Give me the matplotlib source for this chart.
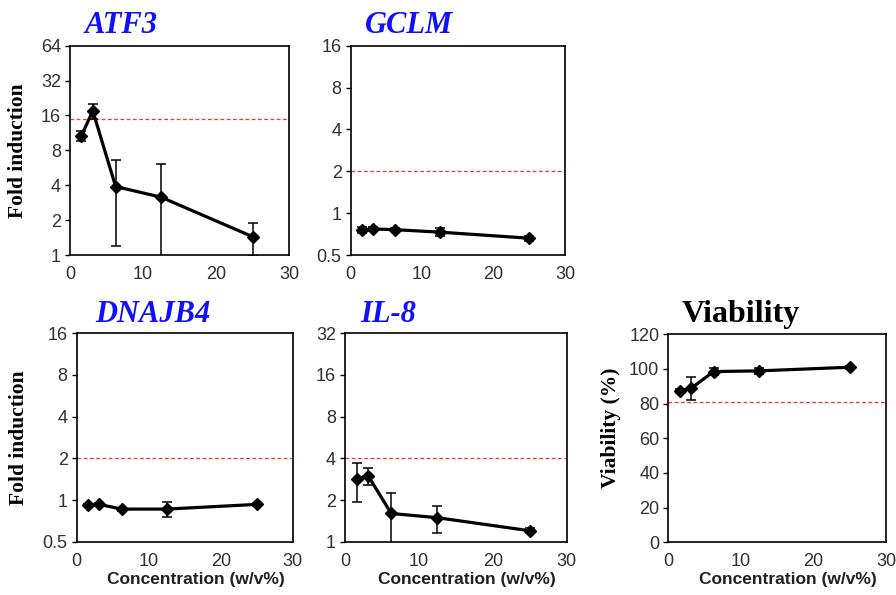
import matplotlib.pyplot as plt
import numpy as np

conc = [1.5625, 3.125, 6.25, 12.5, 25]

atf3 = [10.7, 17.5, 3.9, 3.15, 1.44]
atf3_err = [1.0, 2.5, 2.7, 2.9, 0.46]
gclm = [0.76, 0.77, 0.76, 0.73, 0.66]
gclm_err = [0.04, 0.02, 0.02, 0.05, 0.03]
dnajb4 = [0.92, 0.93, 0.86, 0.86, 0.93]
dnajb4_err = [0.02, 0.02, 0.02, 0.11, 0.02]
il8 = [2.82, 3.0, 1.6, 1.49, 1.2]
il8_err = [0.9, 0.43, 0.66, 0.33, 0.05]
viab = [87.3, 88.8, 98.5, 98.9, 101.0]
viab_err = [1.0, 6.6, 1.8, 1.6, 0.8]

thresholds = {'ATF3': 15, 'GCLM': 2, 'DNAJB4': 2, 'IL-8': 4, 'Viability': 80.8}

W, H = 896, 595
fig = plt.figure(figsize=(W / 100, H / 100), dpi=100)
sans = 'Liberation Sans'
serif = 'Liberation Serif'


def px_axes(l, t, r, b):
    return fig.add_axes([l / W, 1 - b / H, (r - l) / W, (b - t) / H])


def draw(ax, y, err, thr, log=True, ylim=None, yticks=None, yticklabels=None):
    ax.errorbar(conc, y, yerr=err, color='black', lw=2.3, marker='D', ms=6.5,
                capsize=3.5, elinewidth=1.1, capthick=1.1, zorder=3)
    ax.axhline(thr, color='#ff3030', lw=0.9, ls=(0, (3, 2)), zorder=2)
    if log:
        ax.set_yscale('log', base=2)
    ax.set_ylim(ylim)
    ax.set_yticks(yticks)
    ax.set_yticklabels(yticklabels)
    ax.minorticks_off()
    ax.set_xlim(0, 30)
    ax.set_xticks([0, 10, 20, 30])
    ax.tick_params(axis='y', direction='out', length=3.5, width=1, pad=3)
    ax.tick_params(axis='x', length=0, pad=8)
    ax.tick_params(labelsize=13, labelcolor='#303030')
    for lab in ax.get_xticklabels() + ax.get_yticklabels():
        lab.set_family(sans)
    for s in ax.spines.values():
        s.set_linewidth(1.2)


def title(x, y, text, color='#1010ff', italic=True, size=22):
    fig.text(x / W, 1 - y / H, text, color=color, fontsize=size, fontweight='bold',
             fontstyle='italic' if italic else 'normal', family=serif, va='baseline', ha='left')


# ATF3
ax1 = px_axes(70, 45.7, 289, 255)
draw(ax1, atf3, atf3_err, thresholds['ATF3'], ylim=(1, 64),
     yticks=[1, 2, 4, 8, 16, 32, 64], yticklabels=['1', '2', '4', '8', '16', '32', '64'])
ax1.set_ylabel('Fold induction', family=serif, fontweight='bold', fontsize=15.5)
ax1.yaxis.set_label_coords(-0.19, 0.5)
title(85, 33, 'ATF3')

# GCLM
ax2 = px_axes(350.7, 45.7, 565, 255)
draw(ax2, gclm, gclm_err, thresholds['GCLM'], ylim=(0.5, 16),
     yticks=[0.5, 1, 2, 4, 8, 16], yticklabels=['0.5', '1', '2', '4', '8', '16'])
title(365, 33, 'GCLM')

# DNAJB4
ax3 = px_axes(76.7, 333.3, 292.7, 541.7)
draw(ax3, dnajb4, dnajb4_err, thresholds['DNAJB4'], ylim=(0.5, 16),
     yticks=[0.5, 1, 2, 4, 8, 16], yticklabels=['0.5', '1', '2', '4', '8', '16'])
ax3.set_ylabel('Fold induction', family=serif, fontweight='bold', fontsize=15.5)
ax3.yaxis.set_label_coords(-0.22, 0.5)
title(95, 322, 'DNAJB4')

# IL-8
ax4 = px_axes(345, 333.3, 566.7, 541.7)
draw(ax4, il8, il8_err, thresholds['IL-8'], ylim=(1, 32),
     yticks=[1, 2, 4, 8, 16, 32], yticklabels=['1', '2', '4', '8', '16', '32'])
title(360, 322, 'IL-8')

# Viability
ax5 = px_axes(668.3, 334.3, 886, 542.3)
draw(ax5, viab, viab_err, thresholds['Viability'], log=False, ylim=(0, 120),
     yticks=[0, 20, 40, 60, 80, 100, 120],
     yticklabels=['0', '20', '40', '60', '80', '100', '120'])
ax5.set_ylabel('Viability (%)', family=serif, fontweight='bold', fontsize=15.5)
ax5.yaxis.set_label_coords(-0.215, 0.55)
title(682, 322, 'Viability', color='black', italic=False, size=23)

for ax in (ax3, ax4, ax5):
    ax.set_xlabel('Concentration (w/v%)', family=sans, fontweight='bold', fontsize=12.5,
                  color='#202020')
    ax.xaxis.set_label_coords(0.55, -0.145)

fig.savefig('out.png', dpi=100)
